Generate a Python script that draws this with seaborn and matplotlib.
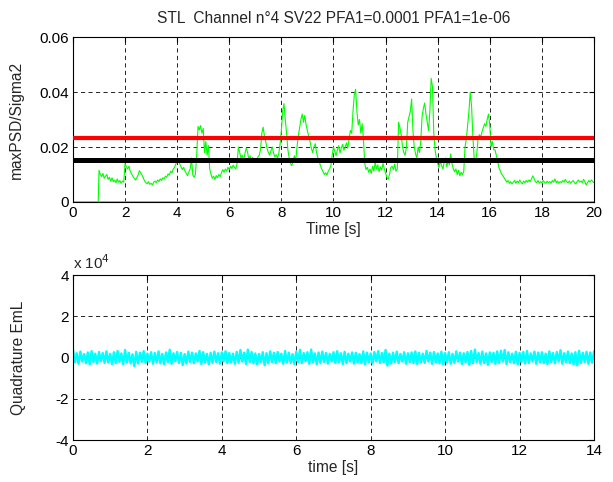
import numpy as np
import pandas as pd
import matplotlib
matplotlib.use("Agg")
import matplotlib.pyplot as plt
import seaborn as sns
from matplotlib.ticker import FuncFormatter, MultipleLocator

# ---------------- data ----------------
title = "STL  Channel n°4 SV22 PFA1=0.0001 PFA1=1e-06"

# maxPSD/Sigma2 trace, sampled every 0.05 s from t = 1.0 s to 20.0 s
psd_t0 = 1.0
psd_dt = 0.05
psd_values = [
    # 1.00 - 1.95
    0.0115, 0.0100, 0.0092, 0.0104, 0.0086, 0.0094, 0.0100, 0.0082, 0.0090, 0.0076,
    0.0088, 0.0074, 0.0080, 0.0070, 0.0084, 0.0072, 0.0078, 0.0068, 0.0076, 0.0072,
    # 2.00 - 2.95
    0.0140, 0.0128, 0.0120, 0.0130, 0.0112, 0.0102, 0.0094, 0.0086, 0.0080, 0.0088,
    0.0098, 0.0114, 0.0106, 0.0098, 0.0088, 0.0076, 0.0070, 0.0066, 0.0074, 0.0064,
    # 3.00 - 3.95
    0.0068, 0.0062, 0.0072, 0.0076, 0.0070, 0.0080, 0.0074, 0.0084, 0.0078, 0.0088,
    0.0084, 0.0094, 0.0090, 0.0102, 0.0098, 0.0112, 0.0106, 0.0120, 0.0126, 0.0138,
    # 4.00 - 4.95
    0.0160, 0.0150, 0.0138, 0.0128, 0.0118, 0.0126, 0.0112, 0.0104, 0.0096, 0.0110,
    0.0120, 0.0160, 0.0098, 0.0090, 0.0100, 0.0170, 0.0275, 0.0262, 0.0278, 0.0250,
    # 5.00 - 5.95
    0.0268, 0.0180, 0.0220, 0.0170, 0.0205, 0.0120, 0.0100, 0.0086, 0.0094, 0.0082,
    0.0096, 0.0088, 0.0100, 0.0092, 0.0106, 0.0118, 0.0108, 0.0120, 0.0112, 0.0126,
    # 6.00 - 6.95
    0.0118, 0.0130, 0.0122, 0.0134, 0.0126, 0.0120, 0.0140, 0.0200, 0.0180, 0.0160,
    0.0170, 0.0150, 0.0176, 0.0196, 0.0182, 0.0156, 0.0168, 0.0150, 0.0162, 0.0148,
    # 7.00 - 7.95
    0.0158, 0.0146, 0.0164, 0.0170, 0.0190, 0.0250, 0.0272, 0.0240, 0.0220, 0.0195,
    0.0180, 0.0170, 0.0186, 0.0200, 0.0178, 0.0164, 0.0172, 0.0160, 0.0176, 0.0210,
    # 8.00 - 8.95
    0.0260, 0.0330, 0.0358, 0.0300, 0.0250, 0.0190, 0.0160, 0.0140, 0.0132, 0.0150,
    0.0168, 0.0148, 0.0200, 0.0240, 0.0270, 0.0300, 0.0320, 0.0290, 0.0315, 0.0280,
    # 9.00 - 9.95
    0.0260, 0.0238, 0.0220, 0.0196, 0.0180, 0.0200, 0.0212, 0.0180, 0.0160, 0.0150,
    0.0132, 0.0120, 0.0110, 0.0100, 0.0106, 0.0098, 0.0112, 0.0120, 0.0132, 0.0170,
    # 10.00 - 10.95
    0.0200, 0.0185, 0.0168, 0.0190, 0.0205, 0.0178, 0.0196, 0.0210, 0.0188, 0.0200,
    0.0215, 0.0196, 0.0230, 0.0260, 0.0250, 0.0330, 0.0390, 0.0410, 0.0330, 0.0280,
    # 11.00 - 11.95
    0.0300, 0.0250, 0.0285, 0.0230, 0.0140, 0.0118, 0.0126, 0.0108, 0.0120, 0.0104,
    0.0130, 0.0112, 0.0145, 0.0120, 0.0135, 0.0110, 0.0128, 0.0116, 0.0140, 0.0120,
    # 12.00 - 12.95
    0.0105, 0.0090, 0.0082, 0.0100, 0.0125, 0.0130, 0.0118, 0.0138, 0.0112, 0.0120,
    0.0290, 0.0270, 0.0245, 0.0200, 0.0180, 0.0170, 0.0200, 0.0290, 0.0310, 0.0330,
    # 13.00 - 13.95
    0.0375, 0.0260, 0.0200, 0.0175, 0.0160, 0.0200, 0.0180, 0.0220, 0.0310, 0.0340,
    0.0360, 0.0320, 0.0290, 0.0260, 0.0330, 0.0450, 0.0420, 0.0250, 0.0190, 0.0160,
    # 14.00 - 14.95
    0.0140, 0.0125, 0.0150, 0.0132, 0.0120, 0.0145, 0.0160, 0.0128, 0.0150, 0.0135,
    0.0175, 0.0140, 0.0120, 0.0110, 0.0120, 0.0100, 0.0115, 0.0095, 0.0108, 0.0100,
    # 15.00 - 15.95
    0.0110, 0.0200, 0.0230, 0.0280, 0.0330, 0.0400, 0.0350, 0.0240, 0.0160, 0.0145,
    0.0175, 0.0230, 0.0245, 0.0235, 0.0255, 0.0270, 0.0285, 0.0275, 0.0300, 0.0320,
    # 16.00 - 16.95
    0.0280, 0.0200, 0.0220, 0.0190, 0.0190, 0.0170, 0.0150, 0.0125, 0.0115, 0.0102,
    0.0096, 0.0088, 0.0080, 0.0072, 0.0078, 0.0068, 0.0074, 0.0066, 0.0072, 0.0078,
    # 17.00 - 17.95
    0.0068, 0.0076, 0.0070, 0.0080, 0.0072, 0.0066, 0.0076, 0.0070, 0.0078, 0.0072,
    0.0080, 0.0074, 0.0084, 0.0095, 0.0086, 0.0074, 0.0070, 0.0078, 0.0068, 0.0074,
    # 18.00 - 18.95
    0.0070, 0.0078, 0.0072, 0.0068, 0.0076, 0.0070, 0.0074, 0.0068, 0.0078, 0.0072,
    0.0084, 0.0070, 0.0076, 0.0068, 0.0074, 0.0070, 0.0078, 0.0072, 0.0082, 0.0074,
    # 19.00 - 20.00
    0.0070, 0.0076, 0.0068, 0.0074, 0.0078, 0.0070, 0.0066, 0.0074, 0.0080, 0.0072,
    0.0076, 0.0070, 0.0082, 0.0074, 0.0062, 0.0070, 0.0078, 0.0072, 0.0080, 0.0074,
    0.0070,
]
thresholds = [0.0233, 0.0152]          # PFA1=1e-4 (red), PFA1=1e-6 (black)
threshold_colors = ["#ff0000", "#000000"]
threshold_widths = [3.0, 3.6]
detection_t = [0.0, 20.0]
detection_v = [0.0, 0.0]

# Quadrature EmL: noise band, upper and lower excursions every 0.1 s (0 .. 14 s)
eml_hi = [
    4000, 2100, 2900, 1700, 2500, 3100, 1900, 2700, 2200, 3000,
    1800, 2600, 3200, 2000, 3700, 2300, 1600, 2800, 2400, 3100,
    1900, 2600, 2200, 3000, 1800, 2500, 3800, 2100, 2700, 2300,
    1700, 2900, 2400, 2000, 3200, 2600, 1800, 2300, 2900, 2100,
    2500, 3100, 2200, 1900, 2800, 3700, 2400, 3900, 2700, 2000,
    1800, 2600, 2100, 3000, 2300, 2700, 1900, 3200, 2400, 1700,
    2800, 3800, 2200, 2600, 3900, 2000, 2500, 2900, 2200, 1800,
    2600, 3100, 2100, 2800, 1900, 2500, 2300, 1700, 3000, 2400,
    2000, 2700, 3100, 2200, 3700, 1900, 2400, 2900, 1800, 2600,
    2100, 2500, 3000, 2300, 1900, 3200, 2400, 2700, 2000, 2900,
    2200, 2600, 1800, 3000, 2400, 2100, 2700, 3200, 3900, 2200,
    2900, 2000, 2500, 2300, 3000, 3300, 3700, 2600, 1900, 2800,
    2300, 2700, 3200, 2000, 2900, 2400, 2600, 1900, 3000, 2200,
    2700, 3600, 2100, 2900, 2000, 2600, 3300, 2300, 2800, 2500,
    3000,
]
eml_lo = [
    -2300, -3000, -1900, -2700, -3300, -2100, -2900, -1800, -2600, -2400,
    -3100, -2700, -2000, -3200, -2300, -2800, -4200, -2900, -2100, -2600,
    -1900, -3000, -2400, -2800, -3300, -2200, -3000, -1800, -2600, -3600,
    -2900, -2200, -2700, -1900, -3100, -2400, -3300, -2600, -2100, -2900,
    -1800, -2700, -2300, -3000, -2600, -1900, -3100, -2200, -2800, -3300,
    -2100, -3700, -2800, -2200, -2700, -1900, -3000, -2400, -2600, -3100,
    -2200, -2700, -1800, -3000, -2300, -3200, -2700, -2100, -2900, -1900,
    -2600, -2300, -3100, -2700, -1900, -2900, -2400, -2700, -3300, -2200,
    -2900, -1800, -2600, -2300, -3900, -2900, -2100, -2700, -1900, -3000,
    -2200, -2700, -3100, -2300, -2600, -1900, -3000, -2400, -2800, -3300,
    -2200, -3000, -2600, -1900, -3100, -2300, -3500, -2700, -2100, -3000,
    -2700, -3500, -2200, -3000, -2600, -1900, -3100, -2300, -2700, -3300,
    -2100, -2900, -2600, -1900, -3000, -2400, -2700, -3100, -2200, -2800,
    -1900, -3000, -2300, -2700, -3300, -3800, -2600, -2200, -3000, -2500,
]
eml_dt = 0.1

# ---------------- build tables ----------------
n_psd = len(psd_values)
psd_time = psd_t0 + psd_dt * np.arange(n_psd)
df_psd = pd.DataFrame({"t": np.concatenate([[psd_t0 - 0.03], psd_time]),
                       "v": np.concatenate([[0.0], psd_values])})
df_det = pd.DataFrame({"t": detection_t, "v": detection_v})

t_hi = eml_dt * np.arange(len(eml_hi))
t_lo = eml_dt * np.arange(len(eml_lo)) + eml_dt / 2
eml_t = np.empty(len(t_hi) + len(t_lo))
eml_v = np.empty_like(eml_t)
eml_t[0::2] = t_hi
eml_t[1::2] = t_lo
eml_v[0::2] = eml_hi
eml_v[1::2] = eml_lo
df_eml = pd.DataFrame({"t": eml_t, "v": eml_v})

# ---------------- style ----------------
sns.set_style("white")
plt.rcParams["font.family"] = ["Liberation Sans", "DejaVu Sans"]
plt.rcParams["font.size"] = 11
plt.rcParams["xtick.direction"] = "in"
plt.rcParams["ytick.direction"] = "in"

FS = 11
FS_LABEL = 11.2

fig = plt.figure(figsize=(6.13, 4.82), dpi=100)
ax1 = fig.add_axes([0.119, 0.581, 0.850, 0.342])
ax2 = fig.add_axes([0.119, 0.0871, 0.850, 0.342])


def matlab_axes(ax):
    for s in ax.spines.values():
        s.set_color("black")
        s.set_linewidth(0.8)
        s.set_visible(True)
    ax.tick_params(axis="both", which="both", direction="in", length=3.5,
                   width=0.8, colors="black", labelsize=FS,
                   top=True, right=True, pad=3)
    ax.grid(True, color="black", linestyle=(0, (5, 4)), linewidth=0.6)
    ax.set_axisbelow(True)


# top panel
sns.lineplot(data=df_det, x="t", y="v", ax=ax1, color="#00ff00", lw=1.8,
             estimator=None, sort=False)
sns.lineplot(data=df_psd, x="t", y="v", ax=ax1, color="#00ff00", lw=0.8,
             estimator=None, sort=False)
for thr, col, w in zip(thresholds, threshold_colors, threshold_widths):
    ax1.axhline(thr, color=col, lw=w, zorder=3)
ax1.set_xlim(0, 20)
ax1.set_ylim(0, 0.06)
ax1.xaxis.set_major_locator(MultipleLocator(2))
ax1.yaxis.set_major_locator(MultipleLocator(0.02))
ax1.yaxis.set_major_formatter(FuncFormatter(lambda v, p: "0" if abs(v) < 1e-12 else f"{v:g}"))
ax1.set_xlabel("Time [s]", fontsize=FS_LABEL, labelpad=1)
ax1.set_ylabel("maxPSD/Sigma2", fontsize=FS_LABEL)
ax1.yaxis.set_label_coords(-0.095, 0.5)
ax1.set_title(title, fontsize=FS_LABEL, pad=10)
matlab_axes(ax1)

# bottom panel
sns.lineplot(data=df_eml, x="t", y="v", ax=ax2, color="#00ffff", lw=1.7,
             estimator=None, sort=False)
ax2.set_xlim(0, 14)
ax2.set_ylim(-40000, 40000)
ax2.xaxis.set_major_locator(MultipleLocator(2))
ax2.yaxis.set_major_locator(MultipleLocator(20000))
ax2.yaxis.set_major_formatter(FuncFormatter(lambda v, p: f"{v / 1e4:g}"))
ax2.set_xlabel("time [s]", fontsize=FS_LABEL, labelpad=1)
ax2.set_ylabel("Quadrature EmL", fontsize=FS_LABEL)
ax2.yaxis.set_label_coords(-0.090, 0.5)
ax2.text(0.0, 1.02, r"x 10$^{4}$", transform=ax2.transAxes, fontsize=FS,
         ha="left", va="bottom")
matlab_axes(ax2)

fig.savefig("out.png", dpi=100, facecolor="white")
